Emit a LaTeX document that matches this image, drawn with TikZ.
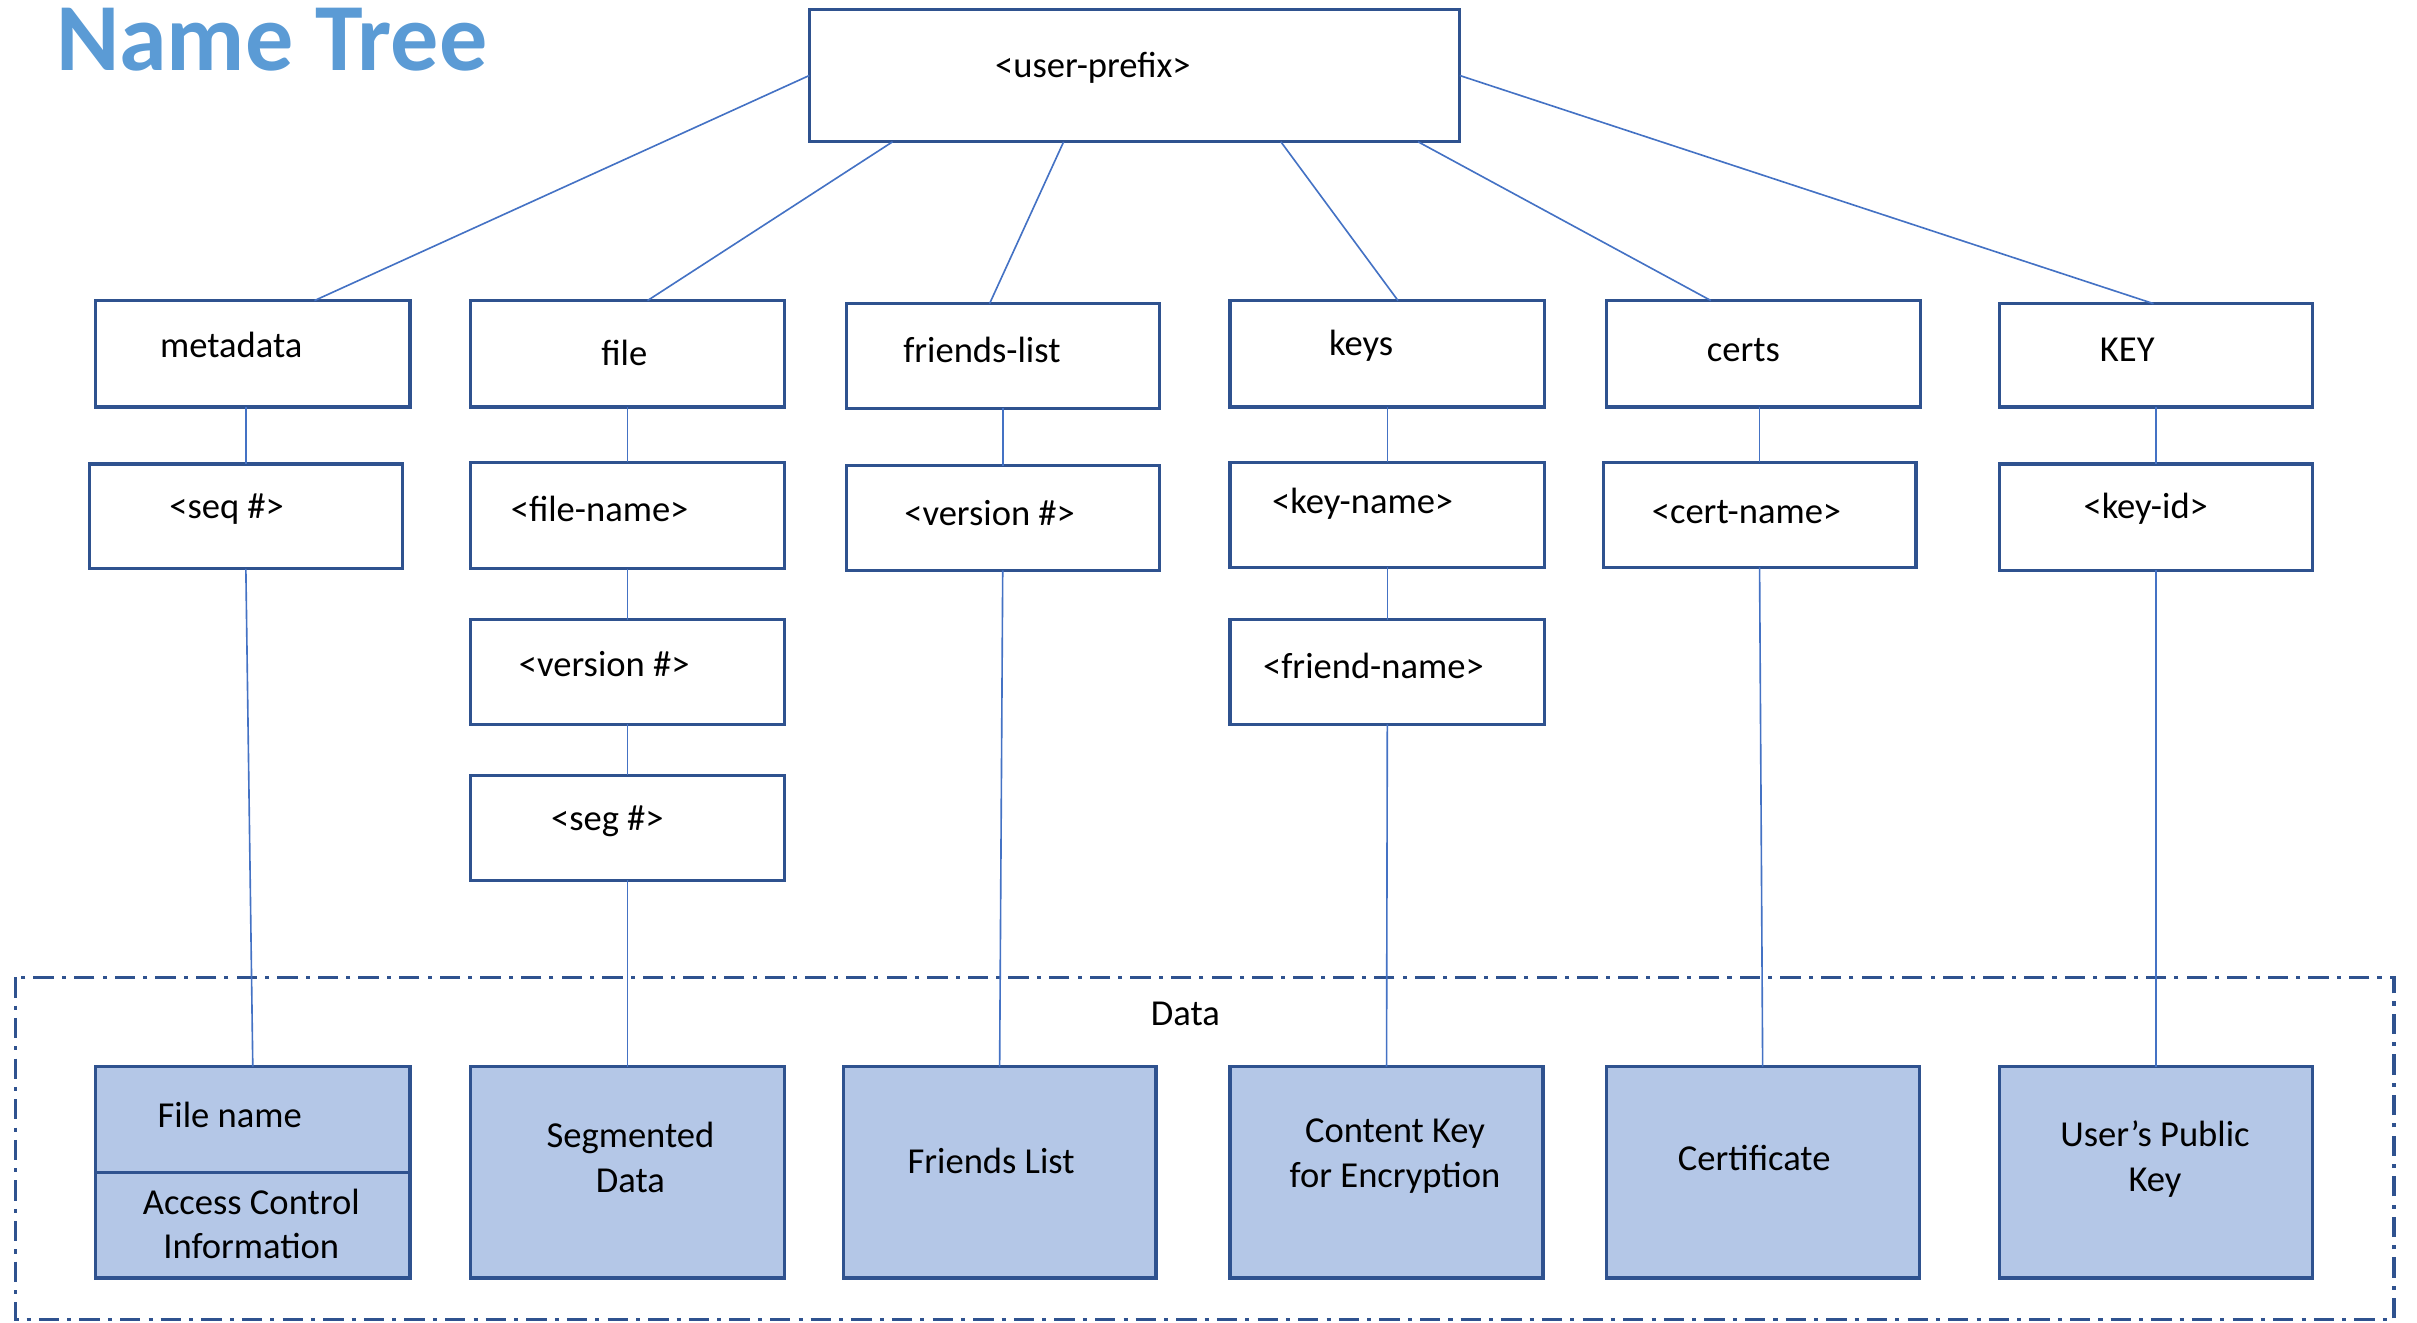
\documentclass[tikz,border=0pt]{standalone}
\usepackage{fontspec}
\setmainfont{Carlito}
\usetikzlibrary{calc}
\definecolor{boxline}{HTML}{2F528F}
\definecolor{conn}{HTML}{4472C4}
\definecolor{datafill}{HTML}{B4C7E7}
\definecolor{titleblue}{HTML}{5B9BD5}
\newcommand\mkbox[6]{%
  \node[#6, minimum width={(#4-#2)*0.02cm}, minimum height={(#5-#3)*0.02cm}] (#1) at ({(#2+#4)/2},{(#3+#5)/2}) {};}
\begin{document}
\begin{tikzpicture}[x=0.02cm,y=-0.02cm,
  namebox/.style={draw=boxline, line width=1.2pt, fill=white, inner sep=0pt, outer sep=0pt},
  databox/.style={draw=boxline, line width=1.2pt, fill=datafill, inner sep=0pt, outer sep=0pt},
  lbl/.style={font=\fontsize{13.5}{16.5}\selectfont, inner sep=0pt, align=center, text=black},
  link/.style={draw=conn, line width=0.6pt},
  region/.style={draw=boxline, line width=1.2pt, dash pattern=on 7.5pt off 3pt on 1.5pt off 3pt}]
\useasboundingbox (0,0) rectangle (1568,858);

% title
\node[anchor=base west, inner sep=0pt, font=\fontsize{35.5}{40}\selectfont\bfseries, text=titleblue] (title) at (36,46) {Name Tree};

% data region
\draw[region] (10,634) rectangle (1553,856);
\node[lbl] (datalbl) at (769,658) {Data};

% boxes
\mkbox{top}{525}{6}{947}{92}{namebox}
\mkbox{meta}{62}{195}{266}{264}{namebox}
\mkbox{file}{305}{195}{509}{264}{namebox}
\mkbox{friends}{549}{197}{752}{265}{namebox}
\mkbox{keys}{798}{195}{1002}{264}{namebox}
\mkbox{certs}{1042}{195}{1246}{264}{namebox}
\mkbox{KEY}{1297}{197}{1500}{264}{namebox}

\mkbox{seq}{58}{301}{261}{369}{namebox}
\mkbox{fname}{305}{300}{509}{369}{namebox}
\mkbox{fver}{549}{302}{752}{370}{namebox}
\mkbox{kname}{798}{300}{1002}{368}{namebox}
\mkbox{cname}{1040}{300}{1243}{368}{namebox}
\mkbox{kid}{1297}{301}{1500}{370}{namebox}

\mkbox{version}{305}{402}{509}{470}{namebox}
\mkbox{friend}{798}{402}{1002}{470}{namebox}
\mkbox{seg}{305}{503}{509}{571}{namebox}

\mkbox{dmeta}{62}{692}{266}{829}{databox}
\mkbox{dseg}{305}{692}{509}{829}{databox}
\mkbox{dfriends}{547}{692}{750}{829}{databox}
\mkbox{dkey}{798}{692}{1001}{829}{databox}
\mkbox{dcert}{1042}{692}{1245}{829}{databox}
\mkbox{dpub}{1297}{692}{1500}{829}{databox}
\draw[draw=boxline, line width=1.2pt] (dmeta.west) -- (dmeta.east);

% labels
\node[lbl] (t-top) at (709,44) {<user-prefix>};
\node[lbl] (t-meta) at (150,224) {metadata};
\node[lbl] (t-file) at (405,229) {file};
\node[lbl] (t-friends) at (637,227) {friends-list};
\node[lbl] (t-keys) at (883,224) {keys};
\node[lbl] (t-certs) at (1131,227) {certs};
\node[lbl] (t-KEY) at (1380,227) {KEY};
\node[lbl] (t-seq) at (147,330) {<seq \#>};
\node[lbl] (t-fname) at (389,330) {<file-name>};
\node[lbl] (t-fver) at (642,333) {<version \#>};
\node[lbl] (t-kname) at (884,327) {<key-name>};
\node[lbl] (t-cname) at (1133,332) {<cert-name>};
\node[lbl] (t-kid) at (1392,330) {<key-id>};
\node[lbl] (t-version) at (392,431) {<version \#>};
\node[lbl] (t-friend) at (891,432) {<friend-name>};
\node[lbl] (t-seg) at (394,533) {<seg \#>};
\node[lbl] (t-fn) at (149,723) {File name};
\node[lbl] (t-aci) at (163,794) {Access Control\\Information};
\node[lbl] (t-dseg) at (409,751) {Segmented\\Data};
\node[lbl] (t-dfriends) at (643,753) {Friends List};
\node[lbl] (t-dkey) at (905,750) {Content Key\\for Encryption};
\node[lbl] (t-dcert) at (1138,751) {Certificate};
\node[lbl] (t-dpub) at (1398,752) {User’s Public\\Key};

% connectors from root
\draw[link] (top.west) -- ($(meta.north west)!0.696!(meta.north east)$);
\draw[link] ($(top.south west)!0.128!(top.south east)$) -- ($(file.north west)!0.564!(file.north east)$);
\draw[link] ($(top.south west)!0.391!(top.south east)$) -- ($(friends.north west)!0.458!(friends.north east)$);
\draw[link] ($(top.south west)!0.725!(top.south east)$) -- ($(keys.north west)!0.534!(keys.north east)$);
\draw[link] ($(top.south west)!0.936!(top.south east)$) -- ($(certs.north west)!0.333!(certs.north east)$);
\draw[link] (top.east) -- ($(KEY.north west)!0.493!(KEY.north east)$);

% vertical connectors
\draw[link] (seq.north |- meta.south) -- (seq.north);
\draw[link] (seq.south) -- (dmeta.north);
\draw[link] (file.south) -- (fname.north);
\draw[link] (fname.south) -- (version.north);
\draw[link] (version.south) -- (seg.north);
\draw[link] (seg.south) -- (dseg.north);
\draw[link] (friends.south) -- (fver.north);
\draw[link] (fver.south) -- (dfriends.north);
\draw[link] (keys.south) -- (kname.north);
\draw[link] (kname.south) -- (friend.north);
\draw[link] (friend.south) -- (dkey.north);
\draw[link] (cname.north |- certs.south) -- (cname.north);
\draw[link] (cname.south) -- (dcert.north);
\draw[link] (KEY.south) -- (kid.north);
\draw[link] (kid.south) -- (dpub.north);
\end{tikzpicture}
\end{document}
